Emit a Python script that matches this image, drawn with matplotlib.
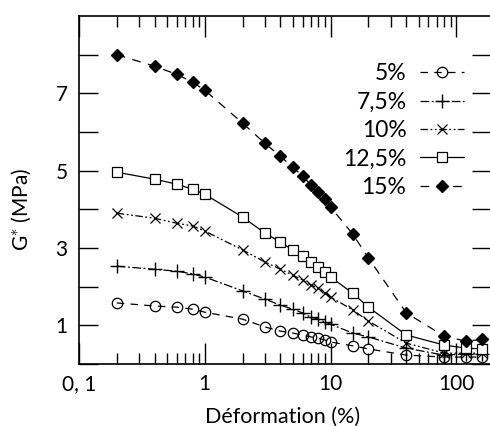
import numpy as np
import matplotlib
matplotlib.use("Agg")
import matplotlib.pyplot as plt
from matplotlib.ticker import FixedLocator, NullFormatter

plt.rcParams['font.family'] = ['Lato', 'DejaVu Sans']
plt.rcParams['mathtext.fontset'] = 'custom'
plt.rcParams['mathtext.rm'] = 'Lato'

# strain (%) at which G* was measured
strain = [0.2, 0.4, 0.6, 0.8, 1, 2, 3, 4, 5, 6, 7, 8, 9, 10, 15, 20, 40, 80, 120, 160]

g_5 = [1.58, 1.50, 1.47, 1.42, 1.34, 1.16, 0.96, 0.85, 0.80, 0.75,
       0.70, 0.67, 0.62, 0.57, 0.47, 0.39, 0.23, 0.18, 0.18, 0.18]
g_75 = [2.53, 2.45, 2.40, 2.33, 2.25, 1.89, 1.68, 1.52, 1.42, 1.32,
        1.21, 1.16, 1.09, 1.03, 0.80, 0.70, 0.41, 0.23, 0.26, 0.26]
g_10 = [3.90, 3.77, 3.64, 3.57, 3.44, 2.95, 2.64, 2.45, 2.30, 2.17,
        2.04, 1.96, 1.84, 1.73, 1.40, 1.11, 0.54, 0.28, 0.28, 0.28]
g_125 = [4.96, 4.78, 4.65, 4.52, 4.39, 3.80, 3.39, 3.15, 2.95, 2.79,
         2.64, 2.51, 2.38, 2.25, 1.83, 1.47, 0.75, 0.49, 0.41, 0.39]
g_15 = [8.00, 7.70, 7.49, 7.29, 7.08, 6.23, 5.71, 5.37, 5.09, 4.86,
        4.63, 4.44, 4.26, 4.06, 3.36, 2.74, 1.32, 0.72, 0.59, 0.64]

labels = ['5%', '7,5%', '10%', '12,5%', '15%']

fig = plt.figure(figsize=(4.9, 4.26), dpi=100)
ax = fig.add_axes([0.161, 0.1455, 0.842, 0.817])

lw = 0.9
ax.plot(strain, g_5, color='black', lw=lw, linestyle=(0, (6, 5)), marker='o',
        markersize=7.5, markerfacecolor='none', markeredgewidth=0.9, label=labels[0])
ax.plot(strain, g_75, color='black', lw=lw, linestyle=(0, (7, 2, 1.5, 2)), marker='+',
        markersize=10, markeredgewidth=1.0, label=labels[1])
ax.plot(strain, g_10, color='black', lw=lw, linestyle=(0, (6, 2, 1.5, 2, 1.5, 2)), marker='x',
        markersize=7.5, markeredgewidth=0.9, label=labels[2])
ax.plot(strain, g_125, color='black', lw=lw, linestyle='-', marker='s',
        markersize=7, markerfacecolor='white', markeredgewidth=0.9, label=labels[3])
ax.plot(strain, g_15, color='black', lw=lw, linestyle=(0, (7, 6)), marker='D',
        markersize=6.5, markerfacecolor='black', label=labels[4])

ax.set_xscale('log')
ax.set_xlim(0.1, 190)
ax.set_ylim(0, 9)

ax.xaxis.set_major_locator(FixedLocator([0.1, 1, 10, 100]))
ax.set_xticklabels(['0, 1', '1', '10', '100'])
minor = [m * d for d in (0.1, 1, 10, 100) for m in range(2, 10)]
ax.xaxis.set_minor_locator(FixedLocator(minor))
ax.xaxis.set_minor_formatter(NullFormatter())

ax.set_yticks(range(0, 9))
ax.set_yticklabels(['' if v % 2 == 0 else str(v) for v in range(0, 9)])

ax.tick_params(which='both', direction='in', top=True, right=True,
               labelsize=15, width=1.0, color='black')
ax.tick_params(axis='y', which='major', length=14, pad=8)
ax.tick_params(axis='x', which='major', length=15, pad=7)
ax.tick_params(axis='x', which='minor', length=8)

for s in ax.spines.values():
    s.set_linewidth(1.2)

ax.set_xlabel('Déformation (%)', fontsize=15.5)
ax.set_ylabel('G$^{\\ast}$ (MPa)', fontsize=15)
ax.xaxis.set_label_coords(0.494, -0.122)
ax.yaxis.set_label_coords(-0.112, 0.443)

ax.legend(loc='upper right', bbox_to_anchor=(0.955, 0.89), frameon=False,
          markerfirst=False, fontsize=16.5, handlelength=1.9, handletextpad=0.6,
          labelspacing=0.32, borderaxespad=0)

fig.savefig('out.png', dpi=100)
